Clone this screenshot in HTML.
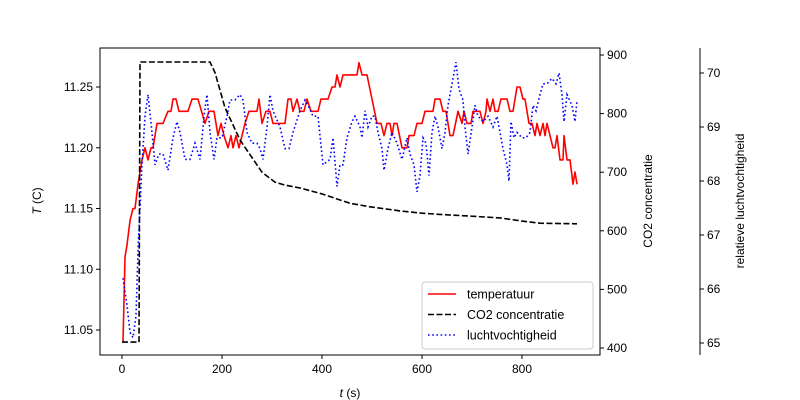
<!DOCTYPE html>
<html><head><meta charset="utf-8"><style>
html,body{margin:0;padding:0;background:#fff;}
svg{display:block;font-family:"Liberation Sans","DejaVu Sans",sans-serif;}
</style></head><body>
<svg id="chart" width="800" height="400" viewBox="0 0 800 400">
<rect width="800" height="400" fill="#fff"/>
<g id="axes"></g>
<g id="series"></g>
<g id="legend"></g>
</svg>
<script>
const tTimes=[2,6,10,16,22,26,32,40,46,52,58,62,70,82,92,98,102,108,114,132,140,152,166,174,184,192,198,204,212,218,222,228,234,240,246,254,270,274,280,288,296,302,326,332,338,342,350,356,364,370,378,392,398,412,420,426,430,436,442,470,474,480,490,500,510,518,524,530,536,540,544,550,560,570,574,584,590,600,606,622,626,636,642,648,656,662,672,680,684,690,698,702,716,722,728,730,736,742,746,752,758,770,776,782,790,796,802,806,814,820,826,830,836,842,846,850,862,866,870,876,882,884,890,896,902,906,910];
const tempVals=[11.04,11.11,11.12,11.14,11.15,11.15,11.17,11.19,11.20,11.19,11.20,11.20,11.22,11.22,11.23,11.23,11.24,11.24,11.23,11.23,11.24,11.24,11.22,11.23,11.23,11.21,11.22,11.21,11.20,11.21,11.20,11.21,11.20,11.21,11.22,11.23,11.23,11.24,11.22,11.23,11.23,11.22,11.22,11.24,11.24,11.23,11.24,11.23,11.23,11.24,11.23,11.23,11.24,11.24,11.25,11.25,11.26,11.25,11.26,11.26,11.27,11.26,11.26,11.24,11.22,11.22,11.21,11.22,11.22,11.21,11.22,11.22,11.20,11.20,11.21,11.21,11.22,11.22,11.23,11.23,11.24,11.24,11.23,11.23,11.21,11.21,11.23,11.22,11.23,11.22,11.22,11.23,11.23,11.22,11.23,11.24,11.23,11.24,11.23,11.23,11.24,11.24,11.23,11.23,11.25,11.25,11.24,11.24,11.22,11.22,11.21,11.22,11.21,11.22,11.21,11.22,11.20,11.20,11.21,11.19,11.19,11.21,11.19,11.19,11.17,11.18,11.17];
const co2Times=[0,34,36,176,186,206,236,280,306,326,356,400,456,496,556,600,636,696,756,796,836,910];
const co2Vals=[410,410,888,888,870,810,755,700,683,678,673,663,647,641,634,630,628,625,622,617,613,612];
const humTimes=[2,10,16,22,28,32,40,46,52,60,66,74,82,92,102,110,116,126,136,146,156,164,170,176,184,190,200,210,216,226,236,242,250,260,270,276,282,290,296,302,316,326,334,342,356,366,372,382,392,402,416,422,430,436,442,450,460,466,476,480,486,492,500,506,512,520,524,532,540,550,560,570,576,584,590,596,602,608,614,620,626,632,640,646,652,660,668,674,682,686,692,700,706,712,722,732,742,750,762,770,774,778,784,790,800,808,816,822,828,836,842,850,860,868,874,880,884,890,900,906,910];
const humVals=[66.2,65.7,65.2,65.1,65.5,66.7,68.3,69.2,69.6,68.9,68.3,68.5,68.5,68.2,68.8,69.1,68.9,68.4,68.4,68.7,68.4,69.2,69.6,68.9,68.4,68.8,68.8,69.2,69.5,69.5,69.6,69.5,68.9,68.7,68.7,68.6,68.4,69.0,69.6,69.3,69.0,68.6,68.6,68.9,69.3,69.5,69.4,69.2,69.2,68.3,68.4,68.8,67.9,68.3,68.3,68.8,69.1,69.2,69.0,68.8,69.3,69.0,69.2,69.2,68.9,68.6,68.2,68.6,68.9,68.7,68.4,68.8,68.5,68.3,67.8,68.1,68.8,68.7,68.1,68.9,69.2,69.0,68.6,68.9,69.4,69.8,70.2,69.7,69.5,69.0,68.5,69.0,69.4,69.2,69.1,69.2,69.0,69.2,68.6,68.3,68.0,69.1,68.8,68.9,68.8,68.8,68.9,69.4,69.3,69.6,69.8,69.8,69.9,69.8,70.0,69.6,69.1,69.6,69.4,69.1,69.5];
const xTicks=[0,200,400,600,800];
const tTicks=[11.05,11.10,11.15,11.20,11.25];
const co2Ticks=[400,500,600,700,800,900];
const humTicks=[65,66,67,68,69,70];

const L=100,R=600,T=48,B=355;
const x=v=>122+(v-0)*0.5;
const yT=v=>87+(11.25-v)*1215;
const yC=v=>55+(900-v)*0.586;
const yH=v=>73+(70-v)*54;
const NS="http://www.w3.org/2000/svg";
function mk(tag,attrs,parent,text){const e=document.createElementNS(NS,tag);for(const k in attrs)e.setAttribute(k,attrs[k]);if(text!==undefined)e.textContent=text;parent.appendChild(e);return e;}
const ax=document.getElementById('axes'),se=document.getElementById('series'),lg=document.getElementById('legend');

let fr=mk('rect',{x:L,y:T,width:R-L,height:B-T,fill:'none',stroke:'#000','stroke-width':1},ax);


xTicks.forEach(v=>{
 let l=mk('line',{x1:x(v),x2:x(v),y1:B,y2:B+4,stroke:'#000'},ax);
 
 
 let t=mk('text',{x:x(v),y:B+18,'font-size':12,'text-anchor':'middle'},ax,String(v));
 
 
});
tTicks.forEach(v=>{
 let l=mk('line',{x1:L-4,x2:L,y1:yT(v),y2:yT(v),stroke:'#000'},ax);
 
 
 let t=mk('text',{x:L-7,y:yT(v)+4,'font-size':12,'text-anchor':'end'},ax,v.toFixed(2));
 
 
});
co2Ticks.forEach(v=>{
 let l=mk('line',{x1:R,x2:R+4,y1:yC(v),y2:yC(v),stroke:'#000'},ax);
 
 
 let t=mk('text',{x:R+7,y:yC(v)+4,'font-size':12},ax,String(v));
 
 
});
let hs=mk('line',{x1:700,x2:700,y1:T,y2:B,stroke:'#000'},ax);


humTicks.forEach(v=>{
 let l=mk('line',{x1:700,x2:704,y1:yH(v),y2:yH(v),stroke:'#000'},ax);
 
 
 let t=mk('text',{x:707,y:yH(v)+4,'font-size':12},ax,String(v));
 
 
});
let xl=mk('text',{x:350,y:397,'font-size':12,'text-anchor':'middle'},ax);
xl.innerHTML='<tspan font-style="italic">t</tspan> (s)';


let yl=mk('text',{x:0,y:0,'font-size':12,'text-anchor':'middle',transform:'translate(41,201) rotate(-90)'},ax);
yl.innerHTML='<tspan font-style="italic">T</tspan> (C)';


let cl=mk('text',{x:0,y:0,'font-size':12,'text-anchor':'middle',transform:'translate(652,201) rotate(-90)'},ax,'CO2 concentratie');


let hl=mk('text',{x:0,y:0,'font-size':12,'text-anchor':'middle',transform:'translate(744,201) rotate(-90)'},ax,'relatieve luchtvochtigheid');



function pts(ts,vs,fy){return ts.map((t,i)=>x(t).toFixed(1)+','+fy(vs[i]).toFixed(1)).join(' ');}
let pt=mk('polyline',{points:pts(tTimes,tempVals,yT),fill:'none',stroke:'#ff0000','stroke-width':1.6,'stroke-linejoin':'round'},se);


let pc=mk('polyline',{points:pts(co2Times,co2Vals,yC),fill:'none',stroke:'#000','stroke-width':1.6,'stroke-dasharray':'6,2.5'},se);


let ph=mk('polyline',{points:pts(humTimes,humVals,yH),fill:'none',stroke:'#0000ff','stroke-width':1.6,'stroke-dasharray':'1.6,2.6'},se);



let lb=mk('rect',{x:422,y:282,width:171,height:67,rx:3,fill:'#fff','fill-opacity':0.8,stroke:'#ccc'},lg);


const le=[['temperatuur','#ff0000','none','legend-temperature'],['CO2 concentratie','#000','6,2.5','legend-co2'],['luchtvochtigheid','#0000ff','1.6,2.6','legend-humidity']];
le.forEach((e,i)=>{
 const yy=294+i*20.5;
 let l=mk('line',{x1:428,x2:456,y1:yy,y2:yy,stroke:e[1],'stroke-width':1.6,'stroke-dasharray':e[2]},lg);
 
 
 let t=mk('text',{x:467,y:yy+4.5,'font-size':12.5},lg,e[0]);
 
 
});
</script>
</body></html>
